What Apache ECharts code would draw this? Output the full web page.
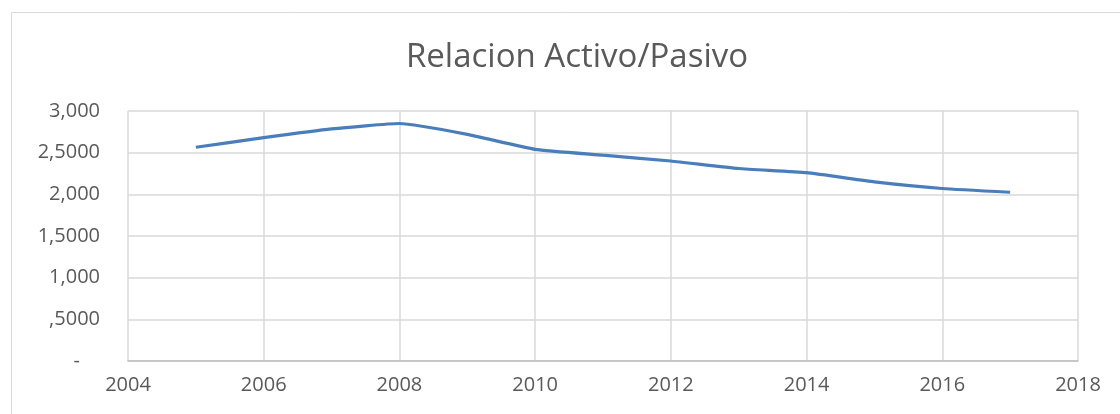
<!DOCTYPE html>
<html>
<head>
<meta charset="utf-8">
<script src="https://cdn.jsdelivr.net/npm/echarts@6/dist/echarts.min.js"></script>
<style>
  html, body { margin: 0; padding: 0; background: #fff; }
  #chart { width: 1120px; height: 414px; }
</style>
</head>
<body>
<div id="chart"></div>
<script>
// datos
var years = [2005, 2006, 2007, 2008, 2009, 2010, 2011, 2012, 2013, 2014, 2015, 2016, 2017];
var ratio = [2.565, 2.68, 2.785, 2.85, 2.72, 2.54, 2.47, 2.40, 2.31, 2.26, 2.15, 2.07, 2.025];
var yLabels = ['-', ',5000', '1,000', '1,5000', '2,000', '2,5000', '3,000'];

var myChart = echarts.init(document.getElementById('chart'));

var points = years.map(function(y, i){ return [y, ratio[i]]; });

var option = {
    animation: false,
    title: {
        text: 'Relacion Activo/Pasivo',
        left: 572,
        top: 36,
        textAlign: 'center',
        textStyle: {
            color: '#595959',
            fontSize: 33,
            fontWeight: 'normal',
            fontFamily: 'Open Sans'
        }
    },
    graphic: [{
        type: 'rect',
        shape: { x: 11.5, y: 12.5, width: 1200, height: 500 },
        style: { fill: 'none', stroke: '#d9d9d9', lineWidth: 1 },
        silent: true
    }],
    grid: {
        left: 128,
        right: 42,
        top: 111,
        bottom: 53
    },
    xAxis: {
        type: 'value',
        min: 2004,
        max: 2018,
        interval: 2,
        axisLine: { show: true, lineStyle: { color: '#bfbfbf', width: 1.5 } },
        axisTick: { show: false },
        splitLine: { show: true, lineStyle: { color: '#d9d9d9', width: 1.5 } },
        axisLabel: {
            color: '#595959',
            fontSize: 20,
            fontFamily: 'Open Sans',
            margin: 14,
            formatter: function(v){ return String(v); }
        }
    },
    yAxis: {
        type: 'value',
        min: 0,
        max: 3,
        interval: 0.5,
        axisLine: { show: false },
        axisTick: { show: false },
        splitLine: { show: true, lineStyle: { color: '#d9d9d9', width: 1.5 } },
        axisLabel: {
            color: '#595959',
            fontSize: 20,
            fontFamily: 'Open Sans',
            margin: 28,
            formatter: function(v){
                var i = Math.round(v / 0.5);
                // el guion de Excel queda desplazado a la izquierda
                return i === 0 ? '-\u2002\u2002' : yLabels[i];
            }
        }
    },
    series: [{
        type: 'line',
        data: points,
        showSymbol: false,
        smooth: 0.15,
        lineStyle: { color: '#4a7ebb', width: 3.2 }
    }]
};

myChart.setOption(option);
</script>
</body>
</html>
